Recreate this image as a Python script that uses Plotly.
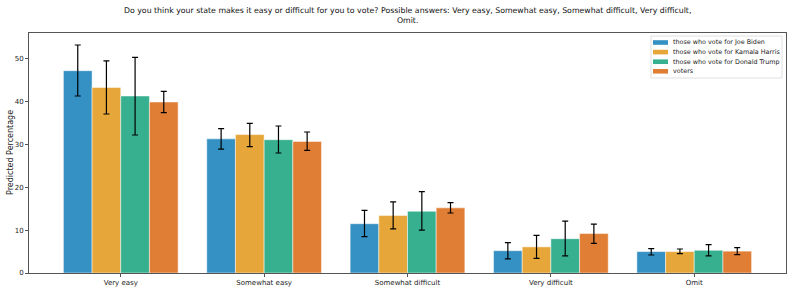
import plotly.graph_objects as go

categories = ["Very easy", "Somewhat easy", "Somewhat difficult", "Very difficult", "Omit"]
series_names = ["those who vote for Joe Biden", "those who vote for Kamala Harris",
                "those who vote for Donald Trump", "voters"]
values = [
    [47.2, 31.3, 11.5, 5.2, 5.0],
    [43.3, 32.3, 13.4, 6.1, 5.0],
    [41.3, 31.1, 14.4, 8.0, 5.3],
    [39.9, 30.7, 15.2, 9.2, 5.1],
]
err_high = [
    [53.2, 33.7, 14.6, 7.1, 5.7],
    [49.5, 34.9, 16.6, 8.8, 5.6],
    [50.3, 34.3, 19.0, 12.1, 6.6],
    [42.4, 32.9, 16.4, 11.4, 5.9],
]
err_low = [
    [41.3, 28.9, 8.5, 3.3, 4.2],
    [37.1, 29.5, 10.3, 3.4, 4.5],
    [32.2, 28.0, 10.0, 4.0, 4.0],
    [37.4, 28.6, 14.0, 6.9, 4.3],
]
colors = ["#3590C3", "#E6A63A", "#37B08F", "#E07E35"]
title_text = ("Do you think your state makes it easy or difficult for you to vote? Possible answers: "
              "Very easy, Somewhat easy, Somewhat difficult, Very difficult,<br>Omit.")
y_title = "Predicted Percentage"

W, H = 793, 292
ML, MR, MT, MB = 29, 7, 33, 19
PW, PH = W - ML - MR, H - MT - MB


def px(x):
    return (x - ML) / PW


def py(y):
    return (H - MB - y) / PH


fig = go.Figure()
for i, name in enumerate(series_names):
    fig.add_trace(go.Bar(
        x=categories, y=values[i], name=name, showlegend=False,
        marker=dict(color=colors[i], line=dict(color="rgba(255,255,255,0.6)", width=0.8)),
        error_y=dict(type="data", symmetric=False,
                     array=[h - v for h, v in zip(err_high[i], values[i])],
                     arrayminus=[v - l for v, l in zip(values[i], err_low[i])],
                     color="black", thickness=1.2, width=3),
    ))

# legend (compact, matplotlib-like)
shapes = [dict(type="rect", xref="paper", yref="paper",
               x0=px(651), x1=px(782), y0=py(78), y1=py(36),
               line=dict(color="#d8d8d8", width=0.8), fillcolor="rgba(255,255,255,0.85)", layer="above")]
annotations = []
for i, name in enumerate(series_names):
    yc = 42.5 + i * 9.6
    shapes.append(dict(type="rect", xref="paper", yref="paper",
                       x0=px(653), x1=px(668), y0=py(yc + 2.3), y1=py(yc - 2.3),
                       line=dict(width=0), fillcolor=colors[i], layer="above"))
    annotations.append(dict(text=name, xref="paper", yref="paper", x=px(671), y=py(yc),
                            xanchor="left", yanchor="middle", showarrow=False,
                            font=dict(size=6.4, family="DejaVu Sans", color="#222")))

annotations.append(dict(text=title_text, xref="paper", yref="paper", x=0.5, y=py(4),
                        xanchor="center", yanchor="top", showarrow=False, align="center",
                        font=dict(size=7.8, family="DejaVu Sans", color="#111")))
annotations.append(dict(text=y_title, xref="paper", yref="paper", x=px(10), y=0.5,
                        xanchor="center", yanchor="middle", showarrow=False, textangle=-90,
                        font=dict(size=8, family="DejaVu Sans", color="#222")))

fig.update_layout(
    width=W, height=H,
    margin=dict(l=ML, r=MR, t=MT, b=MB, autoexpand=False),
    barmode="group", bargap=0.2, bargroupgap=0,
    plot_bgcolor="white", paper_bgcolor="white",
    font=dict(family="DejaVu Sans", size=7, color="#222"),
    showlegend=False,
    shapes=shapes, annotations=annotations,
    xaxis=dict(range=[-0.64, 4.64], showline=True, linecolor="#555", linewidth=1, mirror=True,
               ticks="outside", ticklen=3, tickcolor="#555", showgrid=False, automargin=False),
    yaxis=dict(range=[0, 56], showline=True, linecolor="#555", linewidth=1, mirror=True,
               ticks="outside", ticklen=3, tickcolor="#555", showgrid=False, automargin=False,
               tickvals=[0, 10, 20, 30, 40, 50], zeroline=False),
)

fig.write_html("out.html", config={"displayModeBar": False},
               post_script="document.body.style.margin='0';document.body.style.overflow='hidden';")
